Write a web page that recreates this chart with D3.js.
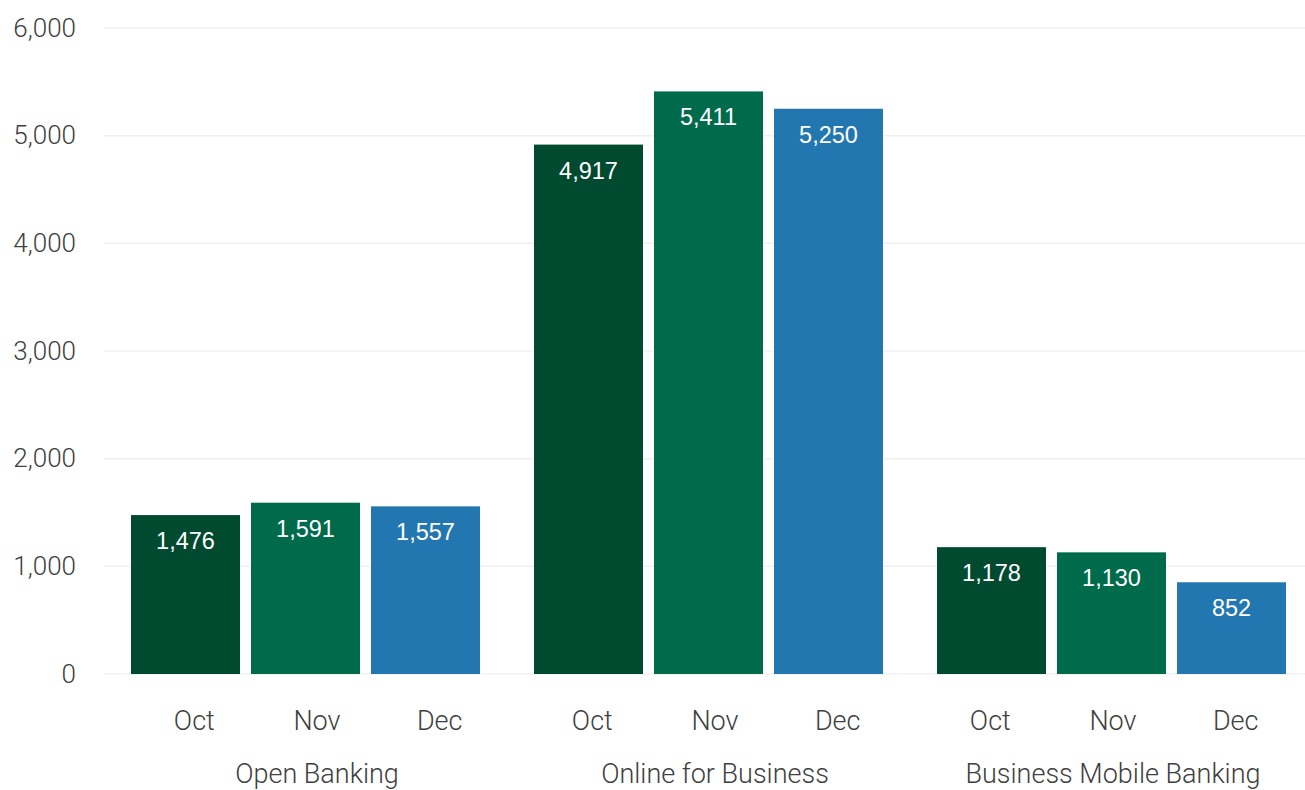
<!DOCTYPE html>
<html>
<head>
<meta charset="utf-8">
<script src="https://cdn.jsdelivr.net/npm/d3@7"></script>
<style>
  body { margin: 0; background: #fff; }
  svg text { font-family: Roboto, sans-serif; font-weight: 300; }
</style>
</head>
<body>
<div id="chart"></div>
<script>
const groups = ["Open Banking", "Online for Business", "Business Mobile Banking"];
const months = ["Oct", "Nov", "Dec"];
const openBanking = [1476, 1591, 1557];
const onlineBusiness = [4917, 5411, 5250];
const mobileBanking = [1178, 1130, 852];
const yTicks = [0, 1000, 2000, 3000, 4000, 5000, 6000];
const colors = ["#004a30", "#006b4b", "#2377b1"];

const width = 1305;
const height = 790;

const rows = [openBanking, onlineBusiness, mobileBanking].map((vals, i) => ({
  group: groups[i],
  values: vals.map((v, j) => ({ month: months[j], value: v }))
}));

const svg = d3.select("#chart")
  .append("svg")
  .attr("width", width)
  .attr("height", height);

const x0 = d3.scaleBand().domain(groups).range([104, 1313]).padding(0);
const x1 = d3.scaleBand().domain(months).range([0, x0.bandwidth()])
  .paddingInner(0.0917).paddingOuter(0.225);
const y = d3.scaleLinear().domain([0, 6000]).range([674, 28]);

// category labels sit on their own slightly narrower scale
const xl0 = d3.scaleBand().domain(groups).range([118, 1312]).padding(0);
const xl1 = d3.scalePoint().domain(months).range([0, xl0.bandwidth()]).padding(0.622);

// gridlines
svg.append("g")
  .selectAll("line")
  .data(yTicks)
  .join("line")
  .attr("x1", 104)
  .attr("x2", width)
  .attr("y1", d => y(d))
  .attr("y2", d => y(d))
  .attr("stroke", "#eef0f4")
  .attr("stroke-width", 1.5);

// y axis labels
const yAxis = d3.axisLeft(y).tickValues(yTicks).tickSize(0).tickPadding(0)
  .tickFormat(d3.format(","));
svg.append("g")
  .attr("transform", "translate(76,0)")
  .call(yAxis)
  .call(g => g.select(".domain").remove())
  .selectAll("text")
  .attr("font-size", 26)
  .attr("fill", "#404040")
  .style("font-family", "Roboto, sans-serif")
  .style("font-weight", 300);

const grp = svg.append("g")
  .selectAll("g")
  .data(rows)
  .join("g")
  .attr("transform", d => `translate(${x0(d.group)},0)`);

grp.selectAll("rect")
  .data(d => d.values)
  .join("rect")
  .attr("x", d => x1(d.month))
  .attr("width", x1.bandwidth())
  .attr("y", d => y(d.value))
  .attr("height", d => y(0) - y(d.value))
  .attr("fill", (d, i) => colors[i]);

grp.selectAll(".val")
  .data(d => d.values)
  .join("text")
  .attr("class", "val")
  .attr("x", d => x1(d.month) + x1.bandwidth() / 2)
  .attr("y", d => y(d.value) + 34)
  .attr("text-anchor", "middle")
  .attr("font-size", 23.5)
  .attr("fill", "#fff")
  .style("font-family", "'Liberation Sans', Arial, sans-serif")
  .style("font-weight", 400)
  .text(d => d3.format(",")(d.value));

// month + group labels
const lab = svg.append("g")
  .selectAll("g")
  .data(rows)
  .join("g")
  .attr("transform", d => `translate(${xl0(d.group)},0)`);

lab.selectAll(".month")
  .data(d => d.values)
  .join("text")
  .attr("class", "month")
  .attr("x", d => xl1(d.month))
  .attr("y", 730)
  .attr("text-anchor", "middle")
  .attr("font-size", 27)
  .attr("fill", "#404040")
  .text(d => d.month);

lab.append("text")
  .attr("x", xl0.bandwidth() / 2)
  .attr("y", 783)
  .attr("text-anchor", "middle")
  .attr("font-size", 27)
  .attr("fill", "#404040")
  .text(d => d.group);
</script>
</body>
</html>
